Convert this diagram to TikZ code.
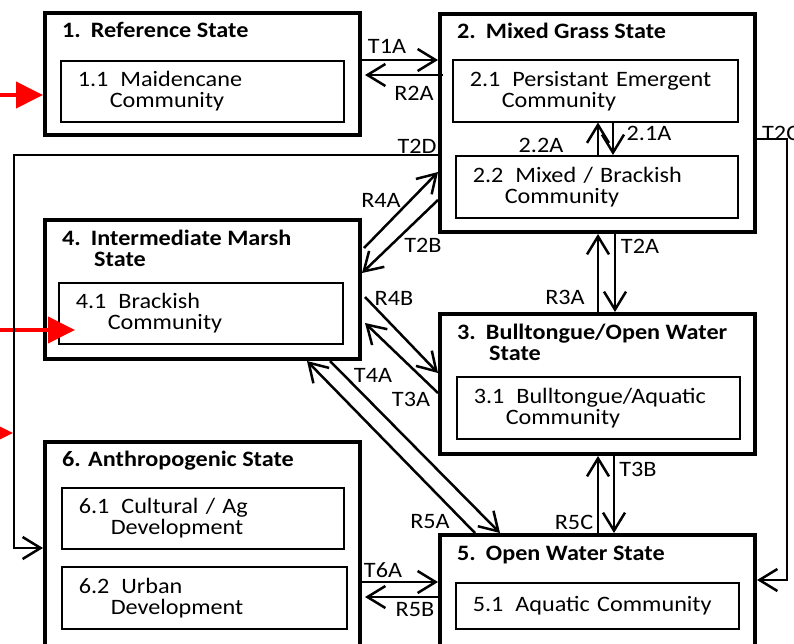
\documentclass[tikz,border=0pt]{standalone}
\usepackage{fontspec}
\setmainfont{Carlito}[FakeStretch=1.1]
\usetikzlibrary{arrows.meta,calc,positioning}
\newcommand{\diagfont}{\fontsize{22pt}{21pt}\selectfont}
\tikzset{
	state/.style     = {draw, line width=4pt, anchor=north west, inner sep=0pt},
	community/.style = {draw, line width=1.5pt, anchor=north west, inner xsep=17pt, inner ysep=0pt, align=left, font=\diagfont},
	stitle/.style    = {anchor=base west, inner sep=0pt, align=left, font=\diagfont\bfseries},
	trans/.style     = {draw, line width=2.5pt, -{Straight Barb[length=18pt,width=22pt]}},
	tlabel/.style    = {inner sep=0pt, font=\diagfont},
	entry/.style     = {draw=red, line width=4pt, -{Triangle[length=27pt,width=26pt]}},
}

\begin{document}
\begin{tikzpicture}[x=1pt, y=-1pt]
		\useasboundingbox (0,0) rectangle (794,643);
		\clip (0,0) rectangle (794,643);
		% states
		\node[state, minimum width=315pt, minimum height=122pt] (s1) at (43,11) {};
		\node[state, minimum width=315pt, minimum height=218pt] (s2) at (438,12) {};
		\node[state, minimum width=315pt, minimum height=139pt] (s4) at (43,218) {};
		\node[state, minimum width=315pt, minimum height=140pt] (s3) at (438,312) {};
		\node[state, minimum width=315pt, minimum height=256pt] (s6) at (43,440) {};
		\node[state, minimum width=315pt, minimum height=163pt] (s5) at (438,533) {};
		% base of a two-line title sits on its last line
		\node[stitle] (t1) at ([xshift=19pt, yshift=-26pt]s1.north west) {1.\hspace{10pt}Reference State};
		\node[stitle] (t2) at ([xshift=19pt, yshift=-26pt]s2.north west) {2.\hspace{10pt}Mixed Grass State};
		\node[stitle] (t4) at ([xshift=19pt, yshift=-48pt]s4.north west) {4.\hspace{10pt}Intermediate Marsh\\\hspace*{32pt}State};
		\node[stitle] (t3) at ([xshift=19pt, yshift=-48pt]s3.north west) {3.\hspace{10pt}Bulltongue/Open Water\\\hspace*{32pt}State};
		\node[stitle] (t6) at ([xshift=19pt, yshift=-26pt]s6.north west) {6. Anthropogenic State};
		\node[stitle] (t5) at ([xshift=19pt, yshift=-27pt]s5.north west) {5.\hspace{10pt}Open Water State};
		% communities
		\node[community, text width=249pt, minimum height=61pt] (c11) at (60,60) {1.1\hspace{12pt}Maidencane\\\hspace*{32pt}Community};
		\node[community, text width=251pt, minimum height=62pt] (c21) at (452,59) {2.1\hspace{12pt}Persistant Emergent\\\hspace*{32pt}Community};
		\node[community, text width=248pt, minimum height=62pt] (c22) at (455,155) {2.2\hspace{12pt}Mixed / Brackish\\\hspace*{32pt}Community};
		\node[community, text width=250pt, minimum height=61pt] (c41) at (58,282) {4.1\hspace{12pt}Brackish\\\hspace*{32pt}Community};
		\node[community, text width=249pt, minimum height=62pt] (c31) at (456,376) {3.1\hspace{12pt}Bulltongue/Aquatic\\\hspace*{32pt}Community};
		\node[community, text width=248pt, minimum height=61pt] (c61) at (61,487) {6.1\hspace{12pt}Cultural / Ag\\\hspace*{32pt}Development};
		\node[community, text width=251pt, minimum height=62pt] (c62) at (61,566) {6.2\hspace{12pt}Urban\\\hspace*{32pt}Development};
		\node[community, text width=249pt, minimum height=46pt] (c51) at (455,582) {5.1\hspace{12pt}Aquatic Community};
		% rails and entry points
		\coordinate (railW) at (14,350);
		\coordinate (railE) at (787,350);
		\coordinate (in1) at (0,95);
		\coordinate (in2) at (0,330);
		\coordinate (in3) at (-40,433);
		\coordinate (in3e) at (13,433);
		\draw[entry] (in1) -- ([yshift=-84pt]s1.north west);
		\draw[entry] (in2) -- ([xshift=17pt, yshift=-48pt]c41.north west);
		\draw[entry] (in3) -- (in3e);
		% transitions
		\draw[trans] ([yshift=-49pt]s1.north east) -- ([yshift=-48pt]s2.north west);
		\draw[trans] ([xshift=5pt, yshift=-63pt]s2.north west) -- ([xshift=3pt, yshift=-64pt]s1.north east);
		\draw[trans] ([yshift=-143pt]s2.north west) -| (railW) |- ([yshift=-108pt]s6.north west);
		\draw[trans] ([yshift=-127pt]s2.north east) -| (railE) |- ([yshift=-47pt]s5.north east);
		\draw[trans] ([xshift=161pt]c21.south west) -- ([xshift=158pt]c22.north west);
		\draw[trans] ([xshift=143pt]c22.north west) -- ([xshift=146pt]c21.south west);
		\draw[trans] ([xshift=2pt, yshift=-30pt]s4.north east) -- ([yshift=-160pt]s2.north west);
		\draw[trans] ([yshift=-188pt]s2.north west) -- ([yshift=-55pt]s4.north east);
		\draw[trans] ([xshift=3pt, yshift=-79pt]s4.north east) -- ([yshift=-61pt]s3.north west);
		\draw[trans] ([yshift=-81pt]s3.north west) -- ([xshift=3pt, yshift=-105pt]s4.north east);
		\draw[trans] ([xshift=-32pt]s4.south east) -- ([xshift=62pt]s5.north west);
		\draw[trans] ([xshift=37pt]s5.north west) -- ([xshift=-55pt]s4.south east);
		\draw[trans] ([xshift=177pt]s2.south west) -- ([xshift=177pt]s3.north west);
		\draw[trans] ([xshift=160pt]s3.north west) -- ([xshift=160pt]s2.south west);
		\draw[trans] ([xshift=176pt]s3.south west) -- ([xshift=176pt]s5.north west);
		\draw[trans] ([xshift=160pt]s5.north west) -- ([xshift=160pt]s3.south west);
		\draw[trans] ([yshift=-142pt]s6.north east) -- ([yshift=-49pt]s5.north west);
		\draw[trans] ([xshift=4pt, yshift=-64pt]s5.north west) -- ([xshift=3pt, yshift=-157pt]s6.north east);
		% labels
		\node[tlabel] (lT1A) at (387,46) {T1A};
		\node[tlabel] (lR2A) at (414,93) {R2A};
		\node[tlabel] (lT2D) at (417,146) {T2D};
		\node[tlabel, anchor=west] (lT2C) at (762,133) {T2C};
		\node[tlabel] (l21A) at (649,133) {2.1A};
		\node[tlabel] (l22A) at (541,145) {2.2A};
		\node[tlabel] (lR4A) at (381,200) {R4A};
		\node[tlabel] (lT2B) at (423,245) {T2B};
		\node[tlabel] (lR4B) at (394,298) {R4B};
		\node[tlabel] (lT4A) at (373,375) {T4A};
		\node[tlabel] (lT3A) at (411,399) {T3A};
		\node[tlabel] (lT2A) at (640,246) {T2A};
		\node[tlabel] (lR3A) at (565,297) {R3A};
		\node[tlabel] (lT3B) at (638,469) {T3B};
		\node[tlabel] (lR5C) at (574,522) {R5C};
		\node[tlabel] (lR5A) at (430,522) {R5A};
		\node[tlabel] (lT6A) at (383,570) {T6A};
		\node[tlabel] (lR5B) at (415,610) {R5B};
	\end{tikzpicture}
\end{document}
